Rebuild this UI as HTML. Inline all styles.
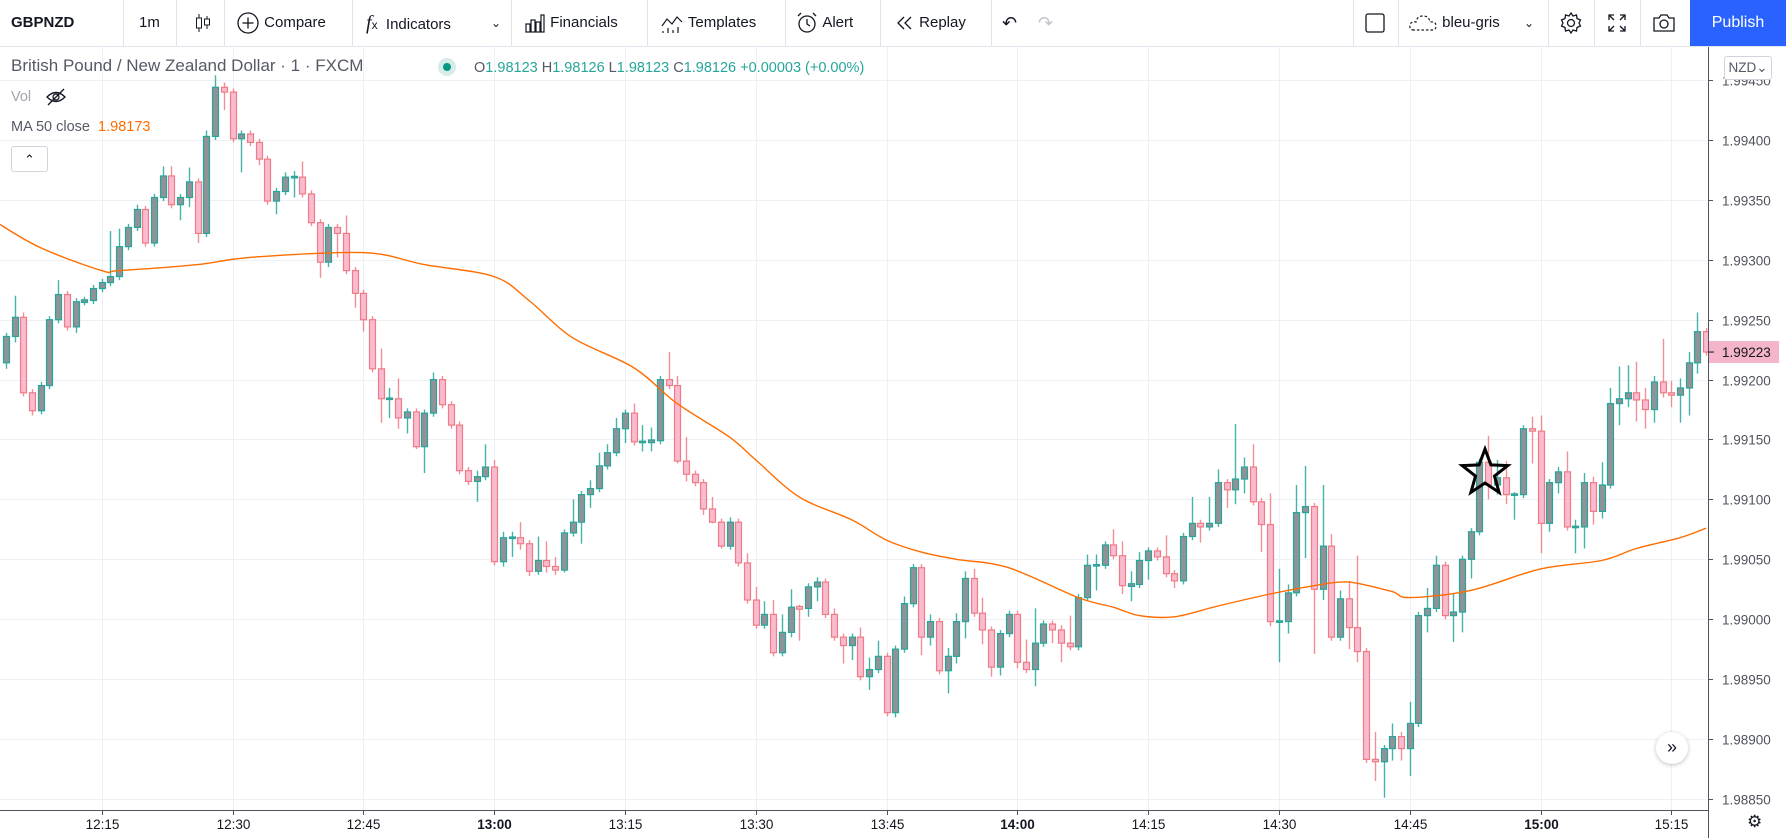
<!DOCTYPE html>
<html><head><meta charset="utf-8">
<style>
html,body{margin:0;padding:0;background:#fff;}
body{width:1786px;height:838px;position:relative;overflow:hidden;font-family:"Liberation Sans",sans-serif;color:#131722;}
#toolbar{position:absolute;left:0;top:0;width:1786px;height:46px;border-bottom:1px solid #e0e3eb;background:#fff;z-index:2;}
.tb{position:absolute;top:0;height:46px;line-height:46px;font-size:15px;color:#131722;white-space:nowrap;}
.sep{position:absolute;top:0;width:1px;height:46px;background:#e0e3eb;}
.tb svg{vertical-align:middle;}
#publish{position:absolute;left:1690px;top:0;width:96px;height:46px;background:#2962ff;color:#fff;font-size:16px;line-height:46px;text-align:center;}
#chart{position:absolute;left:0;top:0;}
.leg{position:absolute;white-space:nowrap;z-index:3;}
</style></head>
<body>
<div id="toolbar">
  <div class="tb" style="left:11px;font-weight:bold;">GBPNZD</div>
  <div class="sep" style="left:123px"></div>
  <div class="tb" style="left:139px">1m</div>
  <div class="sep" style="left:176px"></div>
  <div class="tb" style="left:192px"><svg width="22" height="22" viewBox="0 0 22 22"><line x1="7" y1="2" x2="7" y2="20" stroke="#131722"/><rect x="4.5" y="6" width="5" height="10" fill="#fff" stroke="#131722"/><line x1="15" y1="4" x2="15" y2="17" stroke="#131722"/><rect x="12.5" y="7" width="5" height="6" fill="#fff" stroke="#131722"/></svg></div>
  <div class="sep" style="left:224px"></div>
  <div class="tb" style="left:236px"><svg width="24" height="24" viewBox="0 0 24 24"><circle cx="12" cy="12" r="10" fill="none" stroke="#131722" stroke-width="1.3"/><line x1="12" y1="6.5" x2="12" y2="17.5" stroke="#131722" stroke-width="1.3"/><line x1="6.5" y1="12" x2="17.5" y2="12" stroke="#131722" stroke-width="1.3"/></svg> Compare</div>
  <div class="sep" style="left:352px"></div>
  <div class="tb" style="left:366px"><span style="font-family:'Liberation Serif',serif;font-style:italic;font-size:20px">f</span><span style="font-size:12px">x</span>&nbsp; Indicators</div>
  <div class="tb" style="left:491px;font-size:12px">&#8964;</div>
  <div class="sep" style="left:511px"></div>
  <div class="tb" style="left:524px"><svg width="22" height="22" viewBox="0 0 22 22" fill="none" stroke="#131722" stroke-width="1.2"><rect x="2" y="12" width="4" height="8"/><rect x="7" y="8" width="4" height="12"/><rect x="12" y="10" width="4" height="10"/><rect x="17" y="3" width="3" height="17"/></svg> Financials</div>
  <div class="sep" style="left:647px"></div>
  <div class="tb" style="left:660px"><svg width="24" height="22" viewBox="0 0 24 22" fill="none" stroke="#131722" stroke-width="1.2"><polyline points="2,14 7,7 12,12 17,5 22,10"/><line x1="3" y1="19" x2="3" y2="21"/><line x1="8" y1="16" x2="8" y2="21"/><line x1="13" y1="18" x2="13" y2="21"/><line x1="18" y1="15" x2="18" y2="21"/></svg> Templates</div>
  <div class="sep" style="left:785px"></div>
  <div class="tb" style="left:795px"><svg width="24" height="24" viewBox="0 0 24 24" fill="none" stroke="#131722" stroke-width="1.3"><circle cx="12" cy="13" r="8"/><polyline points="12,8 12,13 15,15"/><line x1="3" y1="5" x2="6" y2="2"/><line x1="21" y1="5" x2="18" y2="2"/></svg> Alert</div>
  <div class="sep" style="left:880px"></div>
  <div class="tb" style="left:895px"><svg width="20" height="20" viewBox="0 0 20 20" fill="none" stroke="#131722" stroke-width="1.3"><polyline points="9,4 3,10 9,16"/><polyline points="16,4 10,10 16,16"/></svg> Replay</div>
  <div class="sep" style="left:991px"></div>
  <div class="tb" style="left:1002px;font-size:18px;color:#131722">&#8630;</div>
  <div class="tb" style="left:1038px;font-size:18px;color:#c1c4cd">&#8631;</div>
  <div class="sep" style="left:1353px"></div>
  <div class="tb" style="left:1364px"><svg width="22" height="22" viewBox="0 0 22 22"><rect x="2" y="2" width="18" height="18" rx="2" fill="none" stroke="#131722" stroke-width="1.3"/></svg></div>
  <div class="sep" style="left:1398px"></div>
  <div class="tb" style="left:1408px"><svg width="30" height="20" viewBox="0 0 30 20"><path d="M6 17 Q1 17 2 12 Q3 8 8 9 Q9 3 15 3 Q21 3 22 9 Q28 8 28 13 Q28 17 24 17 Z" fill="none" stroke="#131722" stroke-width="1.2" stroke-dasharray="2.5 2"/></svg> bleu-gris</div>
  <div class="tb" style="left:1524px;font-size:12px">&#8964;</div>
  <div class="sep" style="left:1548px"></div>
  <div class="tb" style="left:1559px"><svg width="24" height="24" viewBox="0 0 24 24" fill="none" stroke="#131722" stroke-width="1.3"><circle cx="12" cy="12" r="3.5"/><path d="M12 2 L14 5 L17.5 4 L18 7.5 L21.5 9 L20 12 L21.5 15 L18 16.5 L17.5 20 L14 19 L12 22 L10 19 L6.5 20 L6 16.5 L2.5 15 L4 12 L2.5 9 L6 7.5 L6.5 4 L10 5 Z"/></svg></div>
  <div class="sep" style="left:1594px"></div>
  <div class="tb" style="left:1606px"><svg width="22" height="22" viewBox="0 0 22 22" fill="none" stroke="#131722" stroke-width="1.3"><polyline points="3,8 3,3 8,3"/><polyline points="14,3 19,3 19,8"/><polyline points="19,14 19,19 14,19"/><polyline points="8,19 3,19 3,14"/><line x1="3" y1="3" x2="8" y2="8"/><line x1="19" y1="3" x2="14" y2="8"/><line x1="19" y1="19" x2="14" y2="14"/><line x1="3" y1="19" x2="8" y2="14"/></svg></div>
  <div class="sep" style="left:1640px"></div>
  <div class="tb" style="left:1652px"><svg width="24" height="22" viewBox="0 0 24 22" fill="none" stroke="#131722" stroke-width="1.3"><path d="M2 6 H7 L9 3 H15 L17 6 H22 V19 H2 Z"/><circle cx="12" cy="12" r="4"/></svg></div>
  <div id="publish">Publish</div>
</div>

<svg id="chart" width="1786" height="838"></svg>

<div class="leg" style="left:11px;top:56px;font-size:17px;color:#555a66">British Pound / New Zealand Dollar · 1 · FXCM</div>
<div class="leg" style="left:438px;top:58px;width:18px;height:18px;border-radius:9px;background:#d5ece9"><div style="position:absolute;left:5px;top:5px;width:8px;height:8px;border-radius:4px;background:#089981"></div></div>
<div class="leg" style="left:474px;top:60px;font-size:14.5px;color:#26a69a"><span style="color:#555a66">O</span>1.98123 <span style="color:#555a66">H</span>1.98126 <span style="color:#555a66">L</span>1.98123 <span style="color:#555a66">C</span>1.98126 +0.00003 (+0.00%)</div>
<div class="leg" style="left:11px;top:89px;font-size:14.5px;color:#a3a6af">Vol</div>
<div class="leg" style="left:45px;top:87px"><svg width="22" height="20" viewBox="0 0 22 20" fill="none" stroke="#131722" stroke-width="1.3"><path d="M2 10 Q11 1 20 10 Q11 19 2 10 Z"/><circle cx="11" cy="10" r="3"/><line x1="3" y1="18" x2="19" y2="2"/></svg></div>
<div class="leg" style="left:11px;top:119px;font-size:14.5px;color:#555a66">MA 50 close <span style="color:#ff6d00">&nbsp;1.98173</span></div>
<div class="leg" style="left:11px;top:146px;width:35px;height:24px;border:1px solid #d1d4dc;border-radius:3px;text-align:center;line-height:26px;font-size:13px">&#8963;</div>
<div class="leg" style="left:1724px;top:56px;width:46px;height:22px;border:1px solid #d1d4dc;border-radius:3px;background:#fff;font-size:13.5px;line-height:22px;color:#555a66;text-align:center">NZD&#8964;</div>
<div class="leg" style="left:1656px;top:732px;width:32px;height:32px;border-radius:16px;background:#fff;box-shadow:0 1px 4px rgba(0,0,0,0.25);text-align:center;line-height:30px;font-size:18px">&#187;</div>
<div class="leg" style="left:1747px;top:812px;font-size:17px">&#9881;</div>

<script>
const NS = "http://www.w3.org/2000/svg";
// candle data: first candle 12:04, one candle per minute
const firstMinuteFrom1215 = -11;
const firstOpen = 1.99214;
const closes = [1.99236,1.99252,1.99189,1.99174,1.99195,1.99250,1.99271,1.99244,1.99265,1.99266,1.99276,
1.99281,1.99286,1.99311,1.99327,1.99342,1.99314,1.99352,1.99370,1.99346,1.99352,1.99365,1.99322,1.99403,1.99444,1.99440,1.99401,1.99405,1.99398,1.99384,
1.99349,1.99357,1.99369,1.99369,1.99355,1.99331,1.99298,1.99327,1.99322,1.99291,1.99272,1.99250,1.99209,1.99184,1.99184,1.99168,1.99173,1.99144,1.99172,1.99200,
1.99179,1.99162,1.99124,1.99115,1.99119,1.99127,1.99048,1.99068,1.99068,1.99063,1.99040,1.99049,1.99044,1.99041,1.99072,1.99081,1.99104,1.99109,1.99128,1.99139,
1.99159,1.99172,1.99148,1.99148,1.99149,1.99200,1.99195,1.99132,1.99121,1.99114,1.99092,1.99081,1.99061,1.99081,1.99047,1.99016,1.98995,1.99004,1.98972,1.98989,
1.99010,1.99009,1.99027,1.99031,1.99004,1.98985,1.98978,1.98985,1.98952,1.98958,1.98969,1.98922,1.98975,1.99013,1.99043,1.98985,1.98998,1.98957,1.98969,1.98998,
1.99034,1.99005,1.98991,1.98960,1.98988,1.99004,1.98964,1.98958,1.98980,1.98996,1.98991,1.98980,1.98977,1.99018,1.99045,1.99045,1.99062,1.99053,1.99028,1.99029,
1.99049,1.99057,1.99052,1.99038,1.99032,1.99069,1.99080,1.99077,1.99080,1.99114,1.99108,1.99117,1.99127,1.99098,1.99079,1.98998,1.98998,1.99022,1.99089,1.99094,
1.99025,1.99061,1.98985,1.99017,1.98993,1.98973,1.98883,1.98881,1.98892,1.98902,1.98892,1.98913,1.99003,1.99009,1.99045,1.99003,1.99006,1.99050,1.99073,1.99131,
1.99112,1.99118,1.99104,1.99104,1.99159,1.99157,1.99080,1.99114,1.99123,1.99077,1.99077,1.99114,1.99090,1.99112,1.99180,1.99184,1.99189,1.99183,1.99175,1.99198,
1.99189,1.99187,1.99193,1.99214,1.99240,1.99223];
// wick lengths beyond the body, in 0.00001 units
const wickUp = [3,18,4,3,3,3,12,3,3,3,3,
3,38,15,3,4,3,3,8,8,3,12,3,5,10,4,3,3,3,3,
3,3,4,5,13,3,3,3,3,15,3,3,3,17,9,17,3,3,3,6,
3,3,3,3,5,19,6,5,5,13,3,20,16,8,3,19,3,7,11,7,
9,3,8,14,11,3,23,8,20,3,3,10,3,4,3,8,11,11,12,15,
15,2,3,4,3,5,3,3,8,10,13,3,3,6,3,3,6,3,7,7,
6,8,13,3,3,3,3,19,29,3,3,4,23,3,9,9,3,13,12,11,
7,3,3,18,3,3,22,3,22,11,3,46,8,19,3,26,44,7,23,34,
3,51,10,7,15,60,3,23,3,11,4,18,3,17,8,3,16,3,3,3,
22,15,14,2,3,10,13,3,4,17,6,8,5,19,13,27,23,26,10,5,
36,10,8,9,16,3];
const wickDn = [5,5,3,4,3,3,3,3,5,3,3,
3,3,3,3,3,3,3,3,3,13,8,8,3,3,15,3,28,3,5,
3,11,3,17,3,3,13,4,20,3,12,10,3,20,16,9,13,2,22,3,
3,3,3,3,17,3,3,4,16,5,4,3,5,4,2,3,18,11,3,3,
3,12,3,8,8,3,3,2,6,3,5,1,2,3,3,3,3,3,3,3,
4,27,7,12,3,3,15,12,3,11,3,3,4,3,3,15,7,3,19,6,
14,3,12,8,7,3,5,3,14,3,11,16,3,3,3,21,3,3,7,13,
3,16,3,3,6,3,3,13,3,3,15,12,12,3,23,4,34,10,3,38,
54,9,3,3,18,9,3,16,30,10,10,23,3,14,3,3,22,17,16,3,
12,8,8,21,3,27,25,7,9,3,22,18,11,6,3,18,7,18,16,11,
4,10,23,23,9,3];
// MA 50 close, sampled at candle minute offsets (from 12:15)
const maMinute = [-12,-7,0,2,11,17,30,37,45,49,54,61,66,72,75,80,86,90,94,98,104,112,116,119,123,128,134,139,142,144,148,150,157,165,172,176,181,184];
const maValue = [1.99331,1.99310,1.99291,1.99291,1.99296,1.99302,1.99306,1.99296,1.99286,1.99266,1.99235,1.99210,1.99180,1.99152,1.99133,1.99102,1.99083,1.99066,1.99056,1.99050,1.99043,1.99018,1.99010,1.99003,1.99002,1.99011,1.99021,1.99028,1.99031,1.99030,1.99023,1.99018,1.99024,1.99042,1.99049,1.99059,1.99068,1.99076];
const priceTicks = [1.99450,1.99400,1.99350,1.99300,1.99250,1.99200,1.99150,1.99100,1.99050,1.99000,1.98950,1.98900,1.98850];
const timeTicks = ["12:15","12:30","12:45","13:00","13:15","13:30","13:45","14:00","14:15","14:30","14:45","15:00","15:15"];
const boldTicks = ["13:00","14:00","15:00"];
const lastPrice = 1.99223;

// axis functions
const plotRight = 1708, plotTop = 47, plotBottom = 810;
function xOf(minFrom1215){ return 101.7 + 8.72*minFrom1215; }
function yOf(p){ return 140 + (1.994 - p)/0.0001*11.98; }

const svg = document.getElementById('chart');
function mk(tag, attrs, parent){
  const e = document.createElementNS(NS, tag);
  for (const k in attrs) e.setAttribute(k, attrs[k]);
  (parent||svg).appendChild(e);
  return e;
}
const defs = mk('defs', {});
const cp = mk('clipPath', {id:'plotclip'}, defs);
mk('rect', {x:0, y:plotTop, width:plotRight, height:plotBottom-plotTop}, cp);

// grid
const grid = mk('g', {});


priceTicks.forEach(p => {
  const y = Math.round(yOf(p))+0.5;
  const l = mk('line', {x1:0, x2:plotRight, y1:y, y2:y, stroke:'#edf0f5', 'stroke-width':1}, grid);
  
  
});
timeTicks.forEach((t, k) => {
  const x = Math.round(xOf(15*k))+0.5;
  const l = mk('line', {x1:x, x2:x, y1:plotTop, y2:plotBottom, stroke:'#edf0f5', 'stroke-width':1}, grid);
  
  
});

// candles
const cg = mk('g', {'clip-path':'url(#plotclip)'});


for (let i = 0; i < closes.length; i++){
  const o = i ? closes[i-1] : firstOpen;
  const c = closes[i];
  const hi = Math.max(o,c) + wickUp[i]*1e-5;
  const lo = Math.min(o,c) - wickDn[i]*1e-5;
  const up = c >= o;
  const x = xOf(firstMinuteFrom1215 + i);
  const stroke = up ? '#26a69a' : '#ef7b84';
  const fill = up ? '#8f9297' : '#f8bbd0';
  const g = mk('g', {}, cg);
  
  
  const xc = Math.round(x)+0.5;
  mk('line', {x1:xc, x2:xc, y1:yOf(hi), y2:yOf(lo), stroke:stroke, 'stroke-width':1.4, opacity:0.85}, g);
  let yt = yOf(Math.max(o,c)), yb = yOf(Math.min(o,c));
  if (yb - yt < 1.5){ yt -= 0.75; yb += 0.75; }
  mk('rect', {x:Math.round(x)-2.5, y:yt, width:6, height:yb-yt, fill:fill, stroke:stroke, 'stroke-width':1.2}, g);
}

// moving average (smooth Catmull-Rom through sampled points)
const mp = maMinute.map((m, k) => [xOf(m), yOf(maValue[k])]);
let d = 'M' + mp[0][0].toFixed(1) + ' ' + mp[0][1].toFixed(1);
for (let k = 0; k < mp.length - 1; k++){
  const p0 = mp[Math.max(0,k-1)], p1 = mp[k], p2 = mp[k+1], p3 = mp[Math.min(mp.length-1,k+2)];
  const c1x = p1[0] + (p2[0]-p0[0])/6, c1y = p1[1] + (p2[1]-p0[1])/6;
  const c2x = p2[0] - (p3[0]-p1[0])/6, c2y = p2[1] - (p3[1]-p1[1])/6;
  d += ' C' + c1x.toFixed(1) + ' ' + c1y.toFixed(1) + ' ' + c2x.toFixed(1) + ' ' + c2y.toFixed(1) + ' ' + p2[0].toFixed(1) + ' ' + p2[1].toFixed(1);
}
const ma = mk('path', {d:d, fill:'none', stroke:'#ff6d00', 'stroke-width':1.4, 'stroke-linejoin':'round', 'clip-path':'url(#plotclip)'});



// star drawing
const sx = 1485, sy = 473, R = 24, r = 10;
let pts = [];
for (let k = 0; k < 10; k++){
  const a = -Math.PI/2 + k*Math.PI/5;
  const rr = k%2 ? r : R;
  pts.push((sx + rr*Math.cos(a)).toFixed(1) + ',' + (sy + rr*Math.sin(a)).toFixed(1));
}
const star = mk('polygon', {points:pts.join(' '), fill:'none', stroke:'#000', 'stroke-width':3, 'stroke-linejoin':'miter'});



// price axis
const pa = mk('g', {});


mk('rect', {x:plotRight, y:plotTop, width:1786-plotRight, height:plotBottom-plotTop, fill:'#fff'}, pa);
mk('line', {x1:plotRight+0.5, x2:plotRight+0.5, y1:plotTop, y2:plotBottom, stroke:'#50535e', 'stroke-width':1}, pa);
priceTicks.forEach(p => {
  const y = Math.round(yOf(p))+0.5;
  mk('line', {x1:plotRight, x2:plotRight+5, y1:y, y2:y, stroke:'#50535e'}, pa);
  const t = mk('text', {x:1722, y:y+5, 'font-size':13.5, fill:'#50535e', 'font-family':'Liberation Sans, sans-serif'}, pa);
  t.textContent = p.toFixed(5);
  
  
});
const ly = yOf(lastPrice);
const lb = mk('g', {}, pa);


mk('rect', {x:plotRight+1, y:ly-11, width:1786-plotRight-8, height:22, fill:'#f5b5c8'}, lb);
mk('line', {x1:plotRight, x2:plotRight+6, y1:ly, y2:ly, stroke:'#131722'}, lb);
const lt = mk('text', {x:1722, y:ly+5, 'font-size':13.5, fill:'#131722', 'font-family':'Liberation Sans, sans-serif'}, lb);
lt.textContent = lastPrice.toFixed(5);

// time axis
const ta = mk('g', {});


mk('rect', {x:0, y:plotBottom, width:1786, height:838-plotBottom, fill:'#fff'}, ta);
mk('line', {x1:0, x2:plotRight, y1:plotBottom+0.5, y2:plotBottom+0.5, stroke:'#50535e'}, ta);
mk('line', {x1:plotRight+0.5, x2:plotRight+0.5, y1:plotBottom, y2:838, stroke:'#50535e'}, ta);
timeTicks.forEach((t, k) => {
  const x = Math.round(xOf(15*k))+0.5;
  mk('line', {x1:x, x2:x, y1:plotBottom, y2:plotBottom+5, stroke:'#50535e'}, ta);
  const e = mk('text', {x:x, y:829, 'font-size':13.5, 'text-anchor':'middle', fill:'#131722', 'font-family':'Liberation Sans, sans-serif', 'font-weight': boldTicks.includes(t) ? 'bold' : 'normal'}, ta);
  e.textContent = t;
  
  
});
</script>
</body></html>
